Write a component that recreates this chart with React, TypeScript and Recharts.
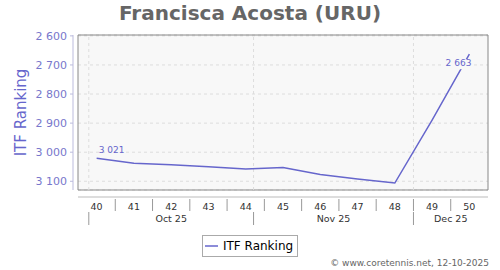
import {
  LineChart,
  Line,
  XAxis,
  YAxis,
  CartesianGrid,
  ReferenceLine,
  ReferenceArea,
  LabelList,
  Legend,
} from "recharts";

const FONT = "'DejaVu Sans', sans-serif";
const LINE_COLOR = "#6666cc";
const PLOT_BG = "#f8f8f8";

// weekly ITF ranking
const WEEKS = [40, 41, 42, 43, 44, 45, 46, 47, 48, 49, 50];
const RANKS = [3021, 3038, 3043, 3050, 3058, 3053, 3077, 3092, 3106, 2890, 2663];

const Y_TICKS = [2600, 2700, 2800, 2900, 3000, 3100];
const Y_DOMAIN = [2597, 3130];
const X_DOMAIN = [39.5, 50.5];

// month bands on the week scale (1st of each month)
const MONTHS = ["Oct 25", "Nov 25", "Dec 25"];
const MONTH_START = [39.79, 44.21, 48.5];

const WEEK_BOUNDS = WEEKS.slice(1).map((w) => w - 0.5);
const MONTH_MID = MONTH_START.map((s, i) => (s + (MONTH_START[i + 1] ?? X_DOMAIN[1])) / 2);

const data = WEEKS.map((week, i) => ({ week, rank: RANKS[i] }));

const fmt = (v: number) => `${Math.floor(v / 1000)} ${String(v % 1000).padStart(3, "0")}`;

// bottom axes are stacked 1px apart: week at +0, separators at +1, months at +2
const WeekTick = ({ x, y, payload }: any) => (
  <text x={x} y={y + 18} textAnchor="middle" fontSize={9.5} fontFamily={FONT} fill="#333">
    {payload.value}
  </text>
);

const SepTick = ({ x, y }: any) => (
  <line x1={x} x2={x} y1={y + 8} y2={y + 20} stroke="#999" />
);

const MonthTick = ({ x, y, payload }: any) => {
  const i = MONTH_MID.indexOf(payload.value);
  if (i >= 0) {
    return (
      <text x={x} y={y + 32} textAnchor="middle" fontSize={9.5} fontFamily={FONT} fill="#333">
        {MONTHS[i]}
      </text>
    );
  }
  return <line x1={x} x2={x} y1={y + 22} y2={y + 35} stroke="#999" />;
};

const PointLabel = ({ x, y, value, index }: any) => {
  if (index === 0) {
    return (
      <text x={x + 2} y={y - 5} fontSize={9} fontFamily={FONT} fill={LINE_COLOR}>
        {fmt(value)}
      </text>
    );
  }
  if (index === RANKS.length - 1) {
    return (
      <g>
        <rect x={x - 26} y={y + 5} width={29} height={10} fill={PLOT_BG} />
        <text x={x + 2} y={y + 12} textAnchor="end" fontSize={9} fontFamily={FONT} fill={LINE_COLOR}>
          {fmt(value)}
        </text>
      </g>
    );
  }
  return null;
};

const YTitle = ({ viewBox }: any) => {
  const cy = viewBox ? viewBox.y + viewBox.height / 2 : 112;
  return (
    <text
      x={26}
      y={cy}
      transform={`rotate(-90 26 ${cy})`}
      textAnchor="middle"
      fontSize={15}
      fontFamily={FONT}
      fill={LINE_COLOR}
    >
      ITF Ranking
    </text>
  );
};

const LegendBox = () => (
  <div
    style={{
      width: 96,
      height: 22,
      boxSizing: "border-box",
      border: "1px solid #aaa",
      display: "flex",
      alignItems: "center",
      paddingLeft: 2,
      fontFamily: FONT,
      fontSize: 12,
      color: "#000",
      background: "#fff",
    }}
  >
    <svg width={13} height={4} style={{ display: "block" }}>
      <line x1={0} x2={13} y1={2} y2={2} stroke={LINE_COLOR} strokeWidth={1.5} />
    </svg>
    <span style={{ marginLeft: 5 }}>ITF Ranking</span>
  </div>
);

const bottomAxis = {
  dataKey: "week",
  type: "number" as const,
  domain: X_DOMAIN,
  allowDataOverflow: true,
  interval: 0 as const,
  height: 1,
  tickSize: 0,
  tickMargin: 0,
  tickLine: false,
};

export default function App() {
  return (
    <div style={{ position: "absolute", left: 0, top: 0, width: 500, height: 270, background: "#fff" }}>
      <div
        style={{
          position: "absolute",
          top: 3,
          width: 500,
          textAlign: "center",
          fontFamily: FONT,
          fontWeight: "bold",
          fontSize: 20,
          lineHeight: "20px",
          color: "#666",
        }}
      >
        Francisca Acosta (URU)
      </div>
      <LineChart width={500} height={270} data={data} margin={{ top: 35, right: 12, bottom: 77, left: 0 }}>
        <CartesianGrid
          xAxisId="week"
          vertical={false}
          fill={PLOT_BG}
          stroke="#dddddd"
          strokeDasharray="3 3"
        />
        <XAxis
          {...bottomAxis}
          xAxisId="week"
          ticks={WEEKS}
          axisLine={{ stroke: "#bbb", transform: "translate(0,5)" }}
          tick={<WeekTick />}
        />
        <XAxis {...bottomAxis} xAxisId="sep" ticks={WEEK_BOUNDS} axisLine={false} tick={<SepTick />} />
        <XAxis
          {...bottomAxis}
          xAxisId="month"
          ticks={[...MONTH_START, ...MONTH_MID]}
          axisLine={false}
          tick={<MonthTick />}
        />
        <YAxis
          reversed
          domain={Y_DOMAIN}
          ticks={Y_TICKS}
          interval={0}
          width={78}
          tickSize={3}
          tickMargin={8}
          axisLine={{ stroke: "#bbbbdd", transform: "translate(-5,0)" }}
          tickLine={{ stroke: "#bbbbdd", transform: "translate(-5,0)" }}
          tick={{ fill: "#7777cc", fontSize: 11, fontFamily: FONT }}
          tickFormatter={fmt}
          label={{ content: <YTitle /> }}
        />
        {MONTH_START.map((m) => (
          <ReferenceLine key={m} xAxisId="week" x={m} stroke="#dddddd" strokeDasharray="3 3" />
        ))}
        <ReferenceArea xAxisId="week" y1={Y_DOMAIN[0]} y2={Y_DOMAIN[1]} fill="none" stroke="#888" />
        <Line
          xAxisId="week"
          type="linear"
          dataKey="rank"
          name="ITF Ranking"
          stroke={LINE_COLOR}
          strokeWidth={1.5}
          dot={false}
          isAnimationActive={false}
        >
          <LabelList dataKey="rank" content={<PointLabel />} />
        </Line>
        <Legend
          layout="horizontal"
          verticalAlign="middle"
          width={96}
          height={22}
          wrapperStyle={{ left: 202, top: 235, width: 96, height: 22 }}
          content={<LegendBox />}
        />
      </LineChart>
      <div
        style={{
          position: "absolute",
          top: 259,
          right: 11,
          fontFamily: FONT,
          fontSize: 9,
          lineHeight: "9px",
          color: "#666",
          whiteSpace: "nowrap",
        }}
      >
        © www.coretennis.net, 12-10-2025
      </div>
    </div>
  );
}
